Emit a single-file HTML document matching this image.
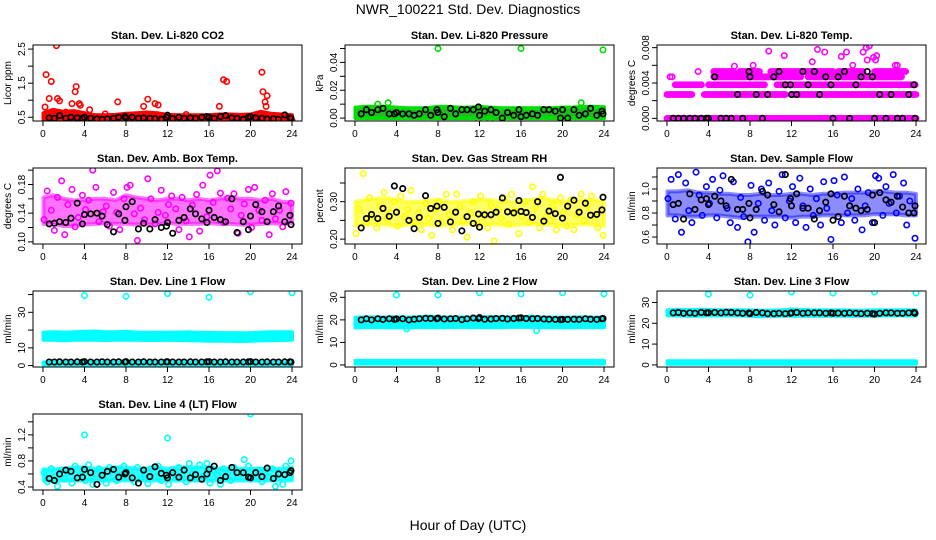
<!DOCTYPE html>
<html><head><meta charset="utf-8"><style>
html,body{margin:0;padding:0;background:#fff;}
svg{display:block;font-family:"Liberation Sans",sans-serif;}
</style></head><body>
<svg id="chart" width="936" height="540" viewBox="0 0 936 540">
<text x="468" y="14" text-anchor="middle" font-size="14">NWR_100221 Std. Dev. Diagnostics</text>
<text x="468" y="530" text-anchor="middle" font-size="14">Hour of Day (UTC)</text>
</svg>
<script>
const bandHours=[0,1,2,3,4,5,6,7,8,9,10,11,12,13,14,15,16,17,18,19,20,21,22,23,24];
const scatHours=[0.1,0.4,0.8,1.1,1.4,1.8,2.1,2.4,2.8,3.1,3.4,3.8,4.1,4.4,4.8,5.1,5.4,5.8,6.1,6.4,6.8,7.1,7.4,7.8,8.1,8.4,8.8,9.1,9.4,9.8,10.1,10.4,10.8,11.1,11.4,11.8,12.1,12.4,12.8,13.1,13.4,13.8,14.1,14.4,14.8,15.1,15.4,15.8,16.1,16.4,16.8,17.1,17.4,17.8,18.1,18.4,18.8,19.1,19.4,19.8,20.1,20.4,20.8,21.1,21.4,21.8,22.1,22.4,22.8,23.1,23.4,23.9];
const blackHours=[0.6,1.1,1.6,2.2,2.7,3.3,3.8,4.0,4.6,5.2,5.7,6.2,6.8,7.3,7.9,8.0,8.6,9.2,9.7,10.3,10.8,11.4,11.9,12.0,12.5,13.1,13.6,14.2,14.7,15.3,15.8,16.0,16.5,17.1,17.6,18.2,18.7,19.3,19.8,20.0,20.5,21.1,21.6,22.2,22.7,23.3,23.8,23.9];

// 1 CO2
const co2BandLo=[0.44,0.44,0.45,0.45,0.44,0.43,0.43,0.44,0.44,0.45,0.45,0.44,0.44,0.44,0.44,0.44,0.44,0.44,0.44,0.44,0.44,0.45,0.44,0.44,0.44];
const co2BandHi=[0.62,0.72,0.66,0.68,0.62,0.56,0.56,0.57,0.6,0.62,0.64,0.62,0.57,0.56,0.56,0.56,0.56,0.58,0.58,0.57,0.58,0.66,0.6,0.58,0.56];
const co2OutX=[0.2,0.3,0.6,0.8,1.3,1.4,1.6,2.8,3.1,3.2,3.5,3.6,4.5,7.2,9.7,10.1,10.8,11.1,17.0,17.4,17.7,21.1,21.2,21.4,21.6,21.5,2.2,6.0,13.8,24.0];
const co2OutY=[0.8,1.75,1.05,1.55,2.6,1.05,0.98,0.9,1.25,1.4,0.9,0.85,0.72,0.95,0.82,1.03,0.9,0.86,0.82,1.6,1.55,1.82,1.25,0.95,1.13,0.82,0.65,0.6,0.58,0.4];
const co2Black=[0.48,0.47,0.55,0.47,0.5,0.48,0.47,0.5,0.47,0.45,0.44,0.45,0.47,0.5,0.52,0.48,0.5,0.47,0.48,0.47,0.46,0.44,0.5,0.56,0.46,0.5,0.47,0.48,0.47,0.5,0.52,0.5,0.47,0.52,0.55,0.48,0.47,0.44,0.5,0.52,0.48,0.47,0.45,0.46,0.44,0.57,0.48,0.47];
// 2 Pressure
const presBandLo=[0.0,0.0,0.0,0.0,0.0,0.0,0.0,0.0,0.0,0.0,0.0,0.0,0.0,0.0,0.0,0.0,0.0,0.0,0.0,0.0,0.0,0.0,0.0,0.0,0.0];
const presBandHi=[0.0075,0.008,0.008,0.008,0.0075,0.007,0.007,0.0072,0.008,0.008,0.0075,0.0075,0.008,0.0075,0.007,0.007,0.007,0.007,0.0072,0.007,0.0075,0.0075,0.008,0.008,0.0078];
const presOutX=[8.0,16.0,23.9,2.2,3.2,21.8,11.9,13.0];
const presOutY=[0.050,0.050,0.049,0.010,0.011,0.011,-0.001,-0.001];
const presBlack=[0.003,0.006,0.004,0.006,0.007,0.003,0.003,0.004,0.003,0.003,0.002,0.003,0.006,0.002,0.006,0.004,0.001,0.007,0.003,0.006,0.006,0.006,0.008,0.002,0.005,0.006,0.004,0.0,0.004,0.002,0.006,0.001,0.002,0.003,0.002,0.006,0.006,0.005,0.0,0.006,0.0,0.006,0.002,0.003,0.007,0.002,0.005,0.003];
// 3 Temp
const tempSegLevel=[0.0,0.0027,0.0027,0.0027,0.0038,0.0038,0.0038,0.0047,0.0047,0.0047,0.0053,0.0053,0.0053,0.0053,0.0053];
const tempSegStart=[0.0,0.0,3.6,12.0,0.8,4.0,10.6,0.3,4.5,13.6,4.5,7.0,10.0,16.5,20.0];
const tempSegEnd=[24.0,2.4,11.5,24.0,3.4,9.5,24.0,0.3,13.0,22.6,6.5,9.0,16.0,19.0,23.0];
const tempOutX=[9.8,11.3,14.5,15.2,16.8,17.3,18.9,19.2,19.5,19.3,19.9,20.1,20.2,14.0,6.5,8.3,17.9,22.0,22.2,0.5,3.0];
const tempOutY=[0.0076,0.0071,0.0078,0.0075,0.007,0.0075,0.0075,0.008,0.0082,0.0066,0.0069,0.0066,0.0071,0.0064,0.0059,0.006,0.006,0.006,0.006,0.0047,0.0053];
const tempBlack=[0.0,0.0,0.0,0.0,0.0,0.0,0.0,0.0,0.0047,0.0,0.0,0.0,0.0027,0.0,0.0053,0.0047,0.0027,0.0,0.0027,0.0047,0.0053,0.0038,0.0038,0.0027,0.0027,0.0053,0.0038,0.0053,0.0027,0.0047,0.0038,0.0,0.0047,0.0053,0.0,0.0038,0.0047,0.0053,0.0047,0.0,0.0027,0.0,0.0027,0.0,0.0,0.0027,0.0038,0.0];
// 4 Amb box temp
const ambBandLo=[0.125,0.125,0.122,0.122,0.124,0.125,0.126,0.125,0.125,0.124,0.124,0.125,0.126,0.125,0.125,0.125,0.126,0.125,0.125,0.124,0.124,0.125,0.126,0.125,0.126];
const ambBandHi=[0.162,0.165,0.16,0.158,0.158,0.16,0.16,0.158,0.165,0.162,0.16,0.158,0.16,0.16,0.158,0.16,0.158,0.16,0.162,0.16,0.16,0.158,0.16,0.156,0.155];
const ambColor=[0.131,0.171,0.144,0.116,0.162,0.185,0.110,0.152,0.173,0.121,0.134,0.165,0.145,0.158,0.200,0.176,0.128,0.142,0.150,0.122,0.169,0.141,0.117,0.160,0.176,0.179,0.139,0.102,0.147,0.131,0.188,0.160,0.125,0.141,0.172,0.137,0.152,0.164,0.146,0.117,0.162,0.129,0.107,0.151,0.166,0.115,0.179,0.135,0.193,0.155,0.199,0.168,0.127,0.161,0.146,0.167,0.112,0.137,0.153,0.173,0.120,0.176,0.144,0.130,0.158,0.110,0.167,0.132,0.144,0.121,0.170,0.154];
const ambBlack=[0.125,0.126,0.128,0.127,0.133,0.154,0.125,0.138,0.139,0.140,0.136,0.124,0.114,0.139,0.130,0.149,0.156,0.118,0.126,0.118,0.131,0.120,0.122,0.127,0.112,0.130,0.134,0.146,0.139,0.132,0.127,0.144,0.134,0.131,0.128,0.160,0.113,0.128,0.117,0.136,0.152,0.142,0.128,0.142,0.150,0.128,0.137,0.124];
// 5 RH
const rhBandLo=[0.235,0.238,0.24,0.238,0.235,0.238,0.24,0.238,0.236,0.238,0.24,0.24,0.238,0.24,0.238,0.236,0.238,0.24,0.24,0.238,0.236,0.238,0.24,0.238,0.236];
const rhBandHi=[0.3,0.305,0.308,0.31,0.305,0.3,0.3,0.302,0.305,0.3,0.3,0.302,0.305,0.305,0.3,0.3,0.302,0.305,0.31,0.305,0.3,0.302,0.305,0.305,0.3];
const rhColor=[0.215,0.28,0.375,0.245,0.31,0.26,0.23,0.29,0.325,0.255,0.27,0.30,0.235,0.315,0.26,0.28,0.33,0.245,0.27,0.225,0.295,0.255,0.21,0.28,0.30,0.245,0.32,0.265,0.225,0.32,0.285,0.25,0.205,0.27,0.30,0.24,0.315,0.26,0.23,0.29,0.195,0.28,0.255,0.31,0.24,0.32,0.275,0.215,0.26,0.30,0.245,0.34,0.285,0.23,0.32,0.26,0.25,0.29,0.225,0.31,0.27,0.235,0.305,0.225,0.265,0.32,0.25,0.29,0.315,0.26,0.23,0.21];
const rhBlack=[0.230,0.255,0.266,0.255,0.282,0.261,0.342,0.272,0.335,0.250,0.228,0.258,0.316,0.282,0.288,0.242,0.285,0.246,0.272,0.222,0.260,0.242,0.267,0.232,0.265,0.265,0.272,0.310,0.273,0.270,0.303,0.274,0.271,0.258,0.300,0.248,0.275,0.268,0.365,0.256,0.288,0.304,0.272,0.296,0.264,0.266,0.278,0.312];
// 6 Sample flow
const flowBandLo=[0.78,0.78,0.77,0.77,0.78,0.78,0.77,0.76,0.77,0.77,0.77,0.77,0.76,0.77,0.77,0.78,0.78,0.78,0.78,0.78,0.79,0.79,0.79,0.78,0.78];
const flowBandHi=[0.98,0.98,0.99,0.97,0.97,0.96,0.96,0.95,0.95,0.96,0.95,0.95,0.96,0.96,0.95,0.96,0.96,0.97,0.97,0.97,0.98,0.98,0.97,0.97,0.96];
const flowColor=[0.92,1.08,0.75,1.12,0.64,1.05,0.82,0.72,1.14,0.95,0.78,1.02,0.88,1.08,0.76,0.99,1.11,0.84,0.72,1.06,0.68,0.93,0.77,0.56,1.03,0.64,0.88,1.0,0.74,1.05,0.82,0.70,0.98,1.12,0.76,0.90,1.02,0.72,1.09,0.86,0.68,1.0,0.78,0.92,0.70,1.06,0.84,0.58,1.07,0.95,0.72,1.10,0.80,0.92,0.74,1.0,0.66,0.86,0.97,0.72,1.11,1.09,0.78,1.02,0.88,1.12,0.80,0.94,1.05,0.70,0.90,0.59];
const flowBlack=[0.87,0.88,0.75,0.96,0.83,0.91,0.92,0.87,0.94,0.90,0.86,1.08,0.83,0.83,0.88,0.76,0.83,0.98,0.95,0.87,0.81,1.12,0.92,0.86,0.96,0.84,0.84,0.75,0.82,0.89,0.96,0.74,0.77,0.94,0.86,0.84,0.82,0.83,0.95,0.72,0.97,0.91,0.89,0.94,0.85,0.80,0.80,0.86];
// 7 Line 1
const l1BandLo=[14.5,14.5,14.2,14.5,14.6,14.5,14.4,14.5,14.6,14.5,14.4,14.4,14.5,14.4,14.3,14.2,14.0,14.0,14.0,13.8,14.0,14.2,14.3,14.4,14.5];
const l1BandHi=[18.6,18.8,18.6,18.8,19.0,19.2,18.8,18.8,19.0,18.6,18.6,18.5,18.6,18.6,18.8,18.5,18.4,18.3,18.3,18.2,18.3,18.6,18.8,18.8,18.8];
const l1LowLo=[0.6,0.6,0.6,0.6,0.6,0.6,0.6,0.6,0.6,0.6,0.6,0.6,0.6,0.6,0.6,0.6,0.6,0.6,0.6,0.6,0.6,0.6,0.6,0.6,0.6];
const l1LowHi=[1.8,1.8,1.8,1.8,1.8,1.8,1.8,1.8,1.8,1.8,1.8,1.8,1.8,1.8,1.8,1.8,1.8,1.8,1.8,1.8,1.8,1.8,1.8,1.8,1.8];
const l1OutX=[4,8,12,16,20,24];
const l1OutY=[39.5,39,40.5,38.5,41.5,41];
const l1Black=[2.0,2.0,2.1,2.0,2.0,2.1,2.0,2.2,2.0,2.0,2.1,2.0,2.0,2.1,2.0,2.2,2.0,2.0,2.1,2.0,2.0,2.0,2.1,2.1,2.0,2.0,2.0,2.1,2.0,2.0,2.1,2.2,2.0,2.0,2.1,2.0,2.0,2.0,2.1,2.2,2.0,2.0,2.1,2.0,2.0,2.1,2.1,2.0];
// 8 Line 2
const l2BandLo=[16.6,16.8,16.8,16.7,16.8,16.6,16.8,16.8,16.7,16.8,16.9,16.8,16.8,16.8,16.8,16.9,16.9,16.9,16.8,16.8,16.7,16.7,16.8,16.8,16.8];
const l2BandHi=[21.0,21.0,21.1,21.0,21.2,21.0,21.1,21.5,21.2,21.0,21.1,21.0,21.2,21.2,21.1,21.2,21.2,21.5,21.0,21.0,21.0,21.0,21.1,21.0,21.0];
const l2OutX=[4,8,12,16,20,24,17.5,5.0];
const l2OutY=[31,31,32,31.5,32,31.5,15.2,16.0];
const l2Black=[20.0,20.5,20.0,20.5,20.2,20.5,20.2,20.4,20.5,20.0,20.3,20.5,20.7,20.6,20.5,20.8,20.4,20.5,20.6,20.1,20.5,20.8,20.6,21.0,20.3,20.4,20.6,20.7,20.4,20.6,20.8,20.9,20.6,20.5,20.6,20.4,20.3,20.2,20.1,20.2,20.2,20.3,20.2,20.5,20.3,20.2,20.5,20.6];
// 9 Line 3
const l3BandLo=[23.8,23.8,23.6,23.6,23.8,23.8,23.8,23.8,23.6,23.4,23.5,23.6,23.6,23.6,23.6,23.6,23.6,23.7,23.6,23.6,23.6,23.8,23.8,23.8,23.8];
const l3BandHi=[26.2,26.4,26.3,26.5,26.4,26.2,26.3,26.3,26.2,26.0,26.0,26.2,26.6,26.4,26.2,26.2,26.2,26.2,26.0,26.0,26.2,26.2,26.2,26.3,26.2];
const l3OutX=[4,8,12,16,20,24];
const l3OutY=[34,33.5,35,34.5,35,34.5];
const l3Black=[25.0,25.2,24.8,25.0,24.8,25.2,25.0,25.1,25.2,25.0,25.3,25.2,25.0,24.8,25.0,24.6,25.2,25.0,24.6,24.6,24.8,24.6,24.8,25.0,25.2,24.8,25.0,25.0,25.0,24.8,25.0,24.8,24.9,24.8,25.0,24.8,24.6,24.8,24.6,24.4,24.8,25.0,25.0,24.8,24.8,25.0,25.2,24.8];
// 10 Line 4
const l4BandLo=[0.5,0.49,0.5,0.5,0.5,0.5,0.5,0.5,0.5,0.5,0.5,0.5,0.5,0.5,0.5,0.5,0.5,0.5,0.5,0.5,0.5,0.5,0.5,0.5,0.5];
const l4BandHi=[0.67,0.67,0.68,0.7,0.7,0.68,0.68,0.7,0.7,0.68,0.68,0.7,0.68,0.7,0.7,0.7,0.7,0.68,0.68,0.68,0.68,0.68,0.68,0.68,0.7];
const l4Color=[0.62,0.48,0.68,0.56,0.41,0.66,0.52,0.62,0.46,0.72,0.55,0.64,0.5,0.74,0.44,0.6,0.68,0.52,0.46,0.7,0.58,0.5,0.66,0.72,0.55,0.63,0.48,0.7,0.52,0.6,0.45,0.68,0.56,0.72,0.5,0.62,0.44,0.66,0.54,0.7,0.58,0.48,0.76,0.6,0.52,0.74,0.56,0.76,0.46,0.66,0.58,0.44,0.68,0.6,0.5,0.7,0.56,0.64,0.82,0.72,0.54,0.6,0.66,0.48,0.62,0.55,0.68,0.41,0.6,0.44,0.72,0.8];
const l4OutX=[4.0,12.0,20.0];
const l4OutY=[1.2,1.15,1.52];
const l4Black=[0.53,0.5,0.6,0.66,0.64,0.54,0.55,0.67,0.62,0.44,0.58,0.64,0.67,0.55,0.6,0.62,0.54,0.46,0.66,0.56,0.71,0.61,0.58,0.54,0.62,0.55,0.66,0.54,0.59,0.52,0.6,0.67,0.72,0.5,0.56,0.7,0.62,0.62,0.55,0.54,0.62,0.56,0.69,0.53,0.6,0.59,0.62,0.65];

const SVGNS="http://www.w3.org/2000/svg";
const svg=document.getElementById('chart');
function mk(tag,attrs,parent){const e=document.createElementNS(SVGNS,tag);for(const k in attrs)e.setAttribute(k,attrs[k]);(parent||svg).appendChild(e);return e;}

const panels=[
 {col:0,row:0,title:"Stan. Dev. Li-820 CO2",ylab:"Licor ppm",ymin:0.39,ymax:2.62,ticks:[0.5,1.0,1.5,2.0,2.5],labels:["0.5","","1.5","","2.5"],color:"#ff0000",
  bands:[[co2BandLo,co2BandHi]],pts:[[co2OutX,co2OutY]],black:co2Black},
 {col:1,row:0,title:"Stan. Dev. Li-820 Pressure",ylab:"kPa",ymin:-0.0021,ymax:0.0525,ticks:[0,0.01,0.02,0.03,0.04,0.05],labels:["0.00","","0.02","","0.04",""],color:"#00dd00",bandFill:"#22bb22",
  bands:[[presBandLo,presBandHi]],pts:[[presOutX,presOutY]],black:presBlack},
 {col:2,row:0,title:"Stan. Dev. Li-820 Temp.",ylab:"degrees C",ymin:-0.0003,ymax:0.0083,ticks:[0,0.002,0.004,0.006,0.008],labels:["0.000","","0.004","","0.008"],color:"#ff00ff",
  bands:[],pts:[[tempOutX,tempOutY]],segs:true,black:tempBlack},
 {col:0,row:1,title:"Stan. Dev. Amb. Box Temp.",ylab:"degrees C",ymin:0.097,ymax:0.203,ticks:[0.10,0.12,0.14,0.16,0.18,0.20],labels:["0.10","","0.14","","0.18",""],color:"#ff00ff",
  bands:[[ambBandLo,ambBandHi]],bandOp:0.55,pts:[[scatHours,ambColor]],black:ambBlack},
 {col:1,row:1,title:"Stan. Dev. Gas Stream RH",ylab:"percent",ymin:0.187,ymax:0.39,ticks:[0.20,0.25,0.30,0.35],labels:["0.20","","0.30",""],color:"#ffff00",
  bands:[[rhBandLo,rhBandHi]],bandOp:0.6,pts:[[scatHours,rhColor]],black:rhBlack},
 {col:2,row:1,title:"Stan. Dev. Sample Flow",ylab:"ml/min",ymin:0.542,ymax:1.175,ticks:[0.6,0.7,0.8,0.9,1.0,1.1],labels:["0.6","","0.8","","1.0",""],color:"#0000ff",
  bands:[[flowBandLo,flowBandHi]],bandOp:0.45,pts:[[scatHours,flowColor]],black:flowBlack},
 {col:0,row:2,title:"Stan. Dev. Line 1 Flow",ylab:"ml/min",ymin:-0.8,ymax:42,ticks:[0,10,20,30,40],labels:["0","10","","30",""],color:"#00ffff",
  bands:[[l1BandLo,l1BandHi],[l1LowLo,l1LowHi]],pts:[[l1OutX,l1OutY]],black:l1Black},
 {col:1,row:2,title:"Stan. Dev. Line 2 Flow",ylab:"ml/min",ymin:-0.9,ymax:32.8,ticks:[0,10,20,30],labels:["0","10","20","30"],color:"#00ffff",
  bands:[[l2BandLo,l2BandHi],[l1LowLo,l1LowHi]],pts:[[l2OutX,l2OutY]],black:l2Black},
 {col:2,row:2,title:"Stan. Dev. Line 3 Flow",ylab:"ml/min",ymin:-1,ymax:35.5,ticks:[0,10,20,30],labels:["0","10","20","30"],color:"#00ffff",
  bands:[[l3BandLo,l3BandHi],[l1LowLo,l1LowHi]],pts:[[l3OutX,l3OutY]],black:l3Black},
 {col:0,row:3,title:"Stan. Dev. Line 4 (LT) Flow",ylab:"ml/min",ymin:0.354,ymax:1.52,ticks:[0.4,0.6,0.8,1.0,1.2,1.4],labels:["0.4","","0.8","","1.2",""],color:"#00ffff",
  bands:[[l4BandLo,l4BandHi]],bandOp:0.8,pts:[[scatHours,l4Color],[l4OutX,l4OutY]],black:l4Black}
];
const xTicks=[0,4,8,12,16,20,24];

panels.forEach((p,pi)=>{
  const L=33+312*p.col, R=302+312*p.col, T=45+123*p.row, B=T+76;
  const W=R-L;
  const xs=h=>L+(h+0.96)/25.92*W;
  const ys=v=>B-(v-p.ymin)/(p.ymax-p.ymin)*(B-T);
  const g=mk('g',{});
  
  
  const clipId='clip'+pi;
  const cp=mk('clipPath',{id:clipId},g);mk('rect',{x:L,y:T,width:W,height:B-T},cp);
  const plot=mk('g',{'clip-path':'url(#'+clipId+')'},g);
  // bands
  p.bands.forEach(([lo,hi])=>{
    let d='';
    bandHours.forEach((h,i)=>{d+=(i?'L':'M')+xs(Math.max(h,0.05)).toFixed(1)+','+ys(hi[i]).toFixed(1);});
    for(let i=bandHours.length-1;i>=0;i--)d+='L'+xs(Math.max(bandHours[i],0.05)).toFixed(1)+','+ys(lo[i]).toFixed(1);
    const b=mk('path',{d:d+'Z',fill:p.bandFill||p.color,'fill-opacity':p.bandOp||1,stroke:p.color,'stroke-width':4,'stroke-opacity':p.bandOp||1,'stroke-linejoin':'round'},plot);
    
    
  });
  if(p.segs){
    tempSegLevel.forEach((lv,i)=>{
      for(let h=tempSegStart[i];h<=tempSegEnd[i]+1e-6;h+=0.12){
        const c=mk('circle',{cx:xs(h),cy:ys(lv),r:2.6,fill:'none',stroke:p.color,'stroke-width':1.6},plot);
        
        
      }
    });
  }
  p.pts.forEach(([xa,ya])=>{
    xa.forEach((h,i)=>{
      const c=mk('circle',{cx:xs(h),cy:ys(ya[i]),r:2.7,fill:'none',stroke:p.color,'stroke-width':1.6},plot);
      
      
    });
  });
  p.black.forEach((v,i)=>{
    const c=mk('circle',{cx:xs(blackHours[i]),cy:ys(v),r:2.7,fill:'none',stroke:'#000','stroke-width':1.7},plot);
    
    
  });
  const box=mk('rect',{x:L,y:T,width:W,height:B-T,fill:'none',stroke:'#000','stroke-width':1},g);
  
  
  const t=mk('text',{x:(L+R)/2,y:T-6,'text-anchor':'middle','font-size':11,'font-weight':'bold'},g);
  t.textContent=p.title;
  
  
  xTicks.forEach(h=>{
    mk('line',{x1:xs(h),x2:xs(h),y1:B,y2:B+5,stroke:'#000'},g);
    const tl=mk('text',{x:xs(h),y:B+16,'text-anchor':'middle','font-size':10},g);
    tl.textContent=h;
    
    
  });
  p.ticks.forEach((v,i)=>{
    const y=ys(v);
    mk('line',{x1:L-5,x2:L,y1:y,y2:y,stroke:'#000'},g);
    if(p.labels[i]){
      const tl=mk('text',{x:L-8,y:y,'text-anchor':'middle','font-size':10,transform:'rotate(-90 '+(L-8)+' '+y+')'},g);
      tl.textContent=p.labels[i];
      
      
    }
  });
  const yl=mk('text',{x:L-22,y:(T+B)/2,'text-anchor':'middle','font-size':10,transform:'rotate(-90 '+(L-22)+' '+((T+B)/2)+')'},g);
  yl.textContent=p.ylab;
  
  
});
</script>
</body></html>
